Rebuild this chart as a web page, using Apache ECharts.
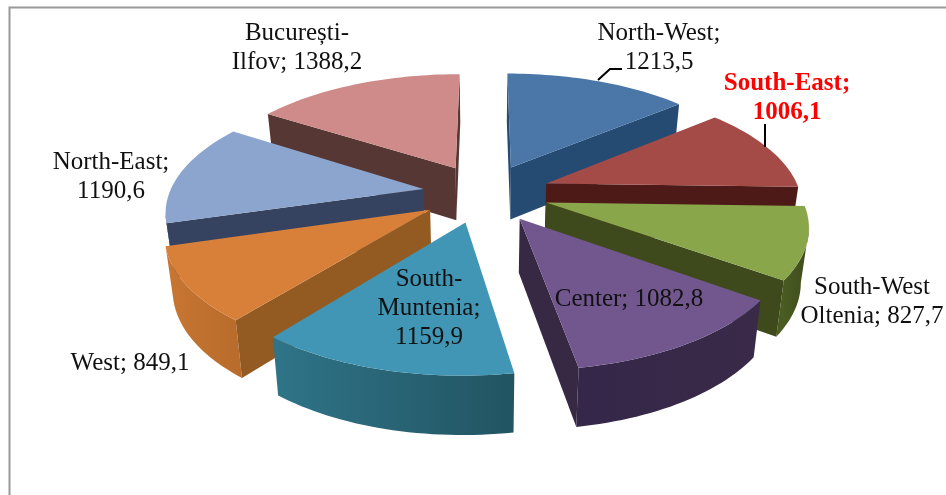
<!DOCTYPE html>
<html>
<head>
<meta charset="utf-8">
<title>Regions</title>
<style>
  html, body { margin: 0; padding: 0; background: #fff; }
  #main { width: 946px; height: 495px; }
</style>
<script src="https://cdn.jsdelivr.net/npm/echarts@6/dist/echarts.min.js"></script>
</head>
<body>
<div id="main"></div>
<script>
// clockwise from 12 o'clock
var categories = ['North-West', 'South-East', 'South-West\nOltenia', 'Center', 'South-\nMuntenia', 'West', 'North-East', 'București-\nIlfov'];
var values = [1213.5, 1006.1, 827.7, 1082.8, 1159.9, 849.1, 1190.6, 1388.2];
// what goes between "name;" and the number
var labelSeparators = ['\n', '\n', ' ', ' ', '\n', ' ', '\n', ' '];

// colours per slice: top, radial side, rim left, rim right
var topColors = ['#4A76A8', '#A44A47', '#8AA64B', '#72578F', '#4096B4', '#D8803A', '#8CA5CE', '#CE8B89'];
var sideColors = ['#264B72', '#4E1A18', '#3F4A1C', '#372844', '#2E6F82', '#935A22', '#364360', '#573733'];
var rimLeft = ['#264B72', '#4E1A18', '#4A5C22', '#35274A', '#2F7488', '#C87632', '#364360', '#573733'];
var rimRight = ['#264B72', '#4E1A18', '#3F4A1C', '#3A2A48', '#225462', '#B96C2C', '#364360', '#573733'];

// label centres, same order as categories
var labelAnchors = [[659, 48], [787, 98], [872, 302], [629, 299], [429, 308], [130, 363], [111, 177], [297, 48]];
// small sideways corrections of the exploded slices
var sliceShift = [0, 2, 0, 0, -3, -1, 1, 0];

// projection of the tilted pie, one perspective for all slices
var cx = 485, cy = 193;
var rx = 254, ry = 117, persp = 0.1645;
var explode = 0.25, depth = 53, bottomShrink = 0.975;

var total = values.reduce(function (a, b) { return a + b; }, 0);

function project(X, Y) {
  var den = 1 + persp * Y;
  return { x: rx * X / den, y: -ry * Y / den, den: den };
}

function renderSlice(params, api) {
  var i = params.dataIndex;
  var before = 0;
  for (var k = 0; k < i; k++) before += values[k];
  var a0 = before / total * Math.PI * 2;
  var a1 = (before + api.value(0)) / total * Math.PI * 2;
  var mid = (a0 + a1) / 2;
  var ex = explode * Math.sin(mid), ey = explode * Math.cos(mid);

  function at(a, r) {
    return project(ex + r * Math.sin(a), ey + r * Math.cos(a));
  }
  function topPt(p) { return [cx + sliceShift[i] + p.x, cy + p.y]; }
  function botPt(p) { return [cx + sliceShift[i] + p.x * bottomShrink, cy + p.y + depth / Math.sqrt(p.den)]; }

  var arc = [];
  var steps = Math.ceil((a1 - a0) / (Math.PI / 120));
  for (var s = 0; s <= steps; s++) {
    arc.push(at(a0 + (a1 - a0) * s / steps, 1));
  }
  var apex = at(mid, 0);
  var midPt = at(mid, 1);
  var z2 = Math.round(-Math.cos(mid) * 100);
  var children = [];

  function face(points, fill) {
    children.push({ type: 'polygon', z2: z2, shape: { points: points }, style: { fill: fill } });
  }

  // outer rim, only the stretch that faces the viewer
  var vis = [];
  for (var j = 0; j < steps; j++) {
    var dx = arc[j + 1].x - arc[j].x, dy = arc[j + 1].y - arc[j].y;
    var inside = dx * (apex.y - arc[j].y) - dy * (apex.x - arc[j].x);
    if (dx * inside < 0) {
      if (!vis.length) vis.push(arc[j]);
      vis.push(arc[j + 1]);
    }
  }
  if (vis.length > 1) {
    var xs = vis.map(function (p) { return cx + sliceShift[i] + p.x; });
    var x0 = Math.min.apply(null, xs), x1 = Math.max.apply(null, xs);
    face(vis.map(topPt).concat(vis.slice().reverse().map(botPt)),
      new echarts.graphic.LinearGradient(x0, 0, x1, 0, [
        { offset: 0, color: rimLeft[i] },
        { offset: 1, color: rimRight[i] }
      ], true));
  }

  // flat cut sides
  [arc[0], arc[arc.length - 1]].forEach(function (p) {
    var ax = p.x - apex.x, ay = p.y - apex.y;
    var inside = ax * (midPt.y - apex.y) - ay * (midPt.x - apex.x);
    if (ax * inside < 0) {
      face([topPt(apex), topPt(p), botPt(p), botPt(apex)], sideColors[i]);
    }
  });

  face([topPt(apex)].concat(arc.map(topPt)), topColors[i]);
  return { type: 'group', children: children };
}

function labelText(i) {
  return categories[i] + ';' + labelSeparators[i] + values[i].toFixed(1).replace('.', ',');
}

var labels = categories.map(function (c, i) {
  var red = i === 1;
  return {
    type: 'text',
    z: 10,
    x: labelAnchors[i][0],
    y: labelAnchors[i][1],
    style: {
      text: labelText(i),
      align: 'center',
      verticalAlign: 'middle',
      fontFamily: '"Liberation Serif"',
      fontSize: 25,
      fontWeight: red ? 'bold' : 'normal',
      lineHeight: 29,
      fill: red ? '#FF0000' : '#111'
    }
  };
});

function line(points, color, width) {
  return {
    type: 'polyline',
    z: 9,
    shape: { points: points },
    style: { stroke: color, lineWidth: width, fill: null }
  };
}

var chart = echarts.init(document.getElementById('main'), null, { renderer: 'canvas' });
chart.setOption({
  backgroundColor: '#fff',
  animation: false,
  graphic: {
    elements: [
      line([[9.5, 495], [9.5, 7.5], [946, 7.5]], '#999', 2),
      line([[598, 80], [610, 69], [622, 69]], '#000', 2),
      line([[765, 124], [765, 147]], '#000', 2)
    ].concat(labels)
  },
  series: [{
    type: 'custom',
    coordinateSystem: 'none',
    silent: true,
    renderItem: renderSlice,
    data: values
  }]
});
</script>
</body>
</html>
